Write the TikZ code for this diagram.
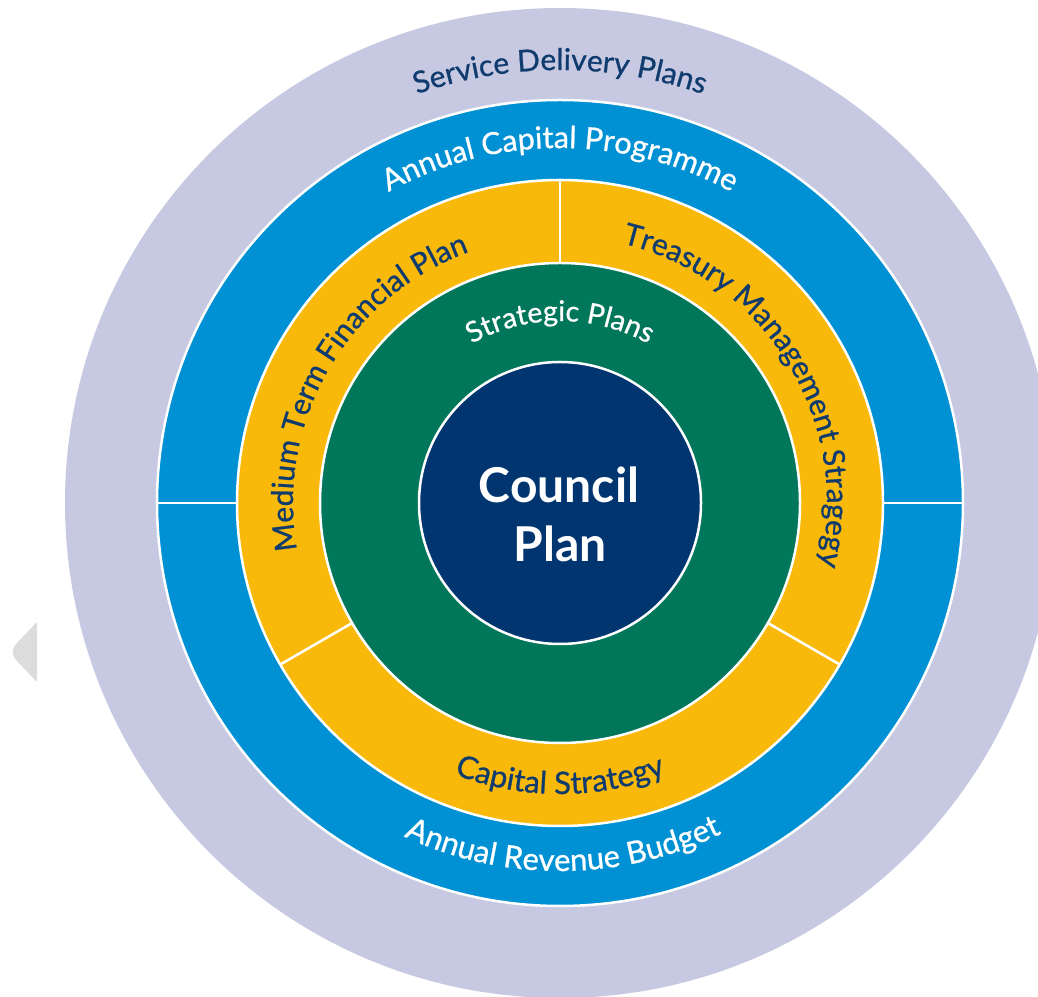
\documentclass[tikz,border=0pt]{standalone}
\usepackage{fontspec}
\setmainfont{Lato}
\newfontfamily\labelfont[FakeBold=0.8]{Lato}
\usetikzlibrary{decorations.text}
\definecolor{lav}{HTML}{C6C9E1}
\definecolor{cblue}{HTML}{0091D5}
\definecolor{cyel}{HTML}{F9B90B}
\definecolor{cgreen}{HTML}{00765A}
\definecolor{cnavy}{HTML}{003570}
\definecolor{tnavy}{HTML}{0F3B6E}
\definecolor{chev}{HTML}{DCDCDC}
\newcommand\ArcTextCW[5]{% radius, center angle, size, color, text
  \path[shift={(c)}, decorate, decoration={text along path, text align=center, text color=#4,
    text={|\labelfont\fontsize{#3}{#3}\selectfont|#5}}]
    ({#2+85}:#1) arc[start angle={#2+85}, end angle={#2-85}, radius=#1];}
\newcommand\ArcTextCCW[5]{% radius, center angle, size, color, text
  \path[shift={(c)}, decorate, decoration={text along path, text align=center, text color=#4,
    text={|\labelfont\fontsize{#3}{#3}\selectfont|#5}}]
    ({#2-85}:#1) arc[start angle={#2-85}, end angle={#2+85}, radius=#1];}
\begin{document}
\begin{tikzpicture}[x=1pt,y=1pt,
  ring/.style={draw=white, line width=2.5pt},
  divider/.style={draw=white, line width=2.5pt}]
\useasboundingbox (0,0) rectangle (1038,996);
\clip (0,0) rectangle (1038,996);
\coordinate (c) at (560,493);
% left chevron
\fill[chev] (37,374) -- (18,354) .. controls (11,347) and (11,341) .. (18,334) -- (37,314) -- cycle;
% rings
\fill[lav] (c) circle[radius=495];
\path[ring, fill=cblue] (c) circle[radius=403];
\path[ring, fill=cyel] (c) circle[radius=323];
\path[ring, fill=cgreen] (c) circle[radius=240];
\path[ring, fill=cnavy] (c) circle[radius=141];
% dividers
\draw[divider, shift={(c)}] (0:323) -- (0:403);
\draw[divider, shift={(c)}] (180:323) -- (180:403);
\draw[divider, shift={(c)}] (90:240) -- (90:323);
\draw[divider, shift={(c)}] (210:240) -- (210:323);
\draw[divider, shift={(c)}] (330:240) -- (330:323);
% labels
\ArcTextCW{433}{90}{30}{tnavy}{Service Delivery Plans}
\ArcTextCW{355}{90}{30.5}{white}{Annual Capital Programme}
\ArcTextCW{182}{90}{28.5}{white}{Strategic Plans}
\ArcTextCW{267}{150}{30}{tnavy}{Medium Term Financial Plan}
\ArcTextCW{267}{31.5}{30}{tnavy}{Treasury Management Stragegy}
\ArcTextCCW{291}{270}{31}{tnavy}{Capital Strategy}
\ArcTextCCW{368}{270.5}{31}{white}{Annual Revenue Budget}
\node[anchor=base, text=white, font=\fontsize{48}{58}\selectfont\bfseries, inner sep=0pt] (cp1) at (559,493) {Council};
\node[anchor=base, text=white, font=\fontsize{48}{58}\selectfont\bfseries, inner sep=0pt] (cp2) at (560,434) {Plan};
\end{tikzpicture}
\end{document}
